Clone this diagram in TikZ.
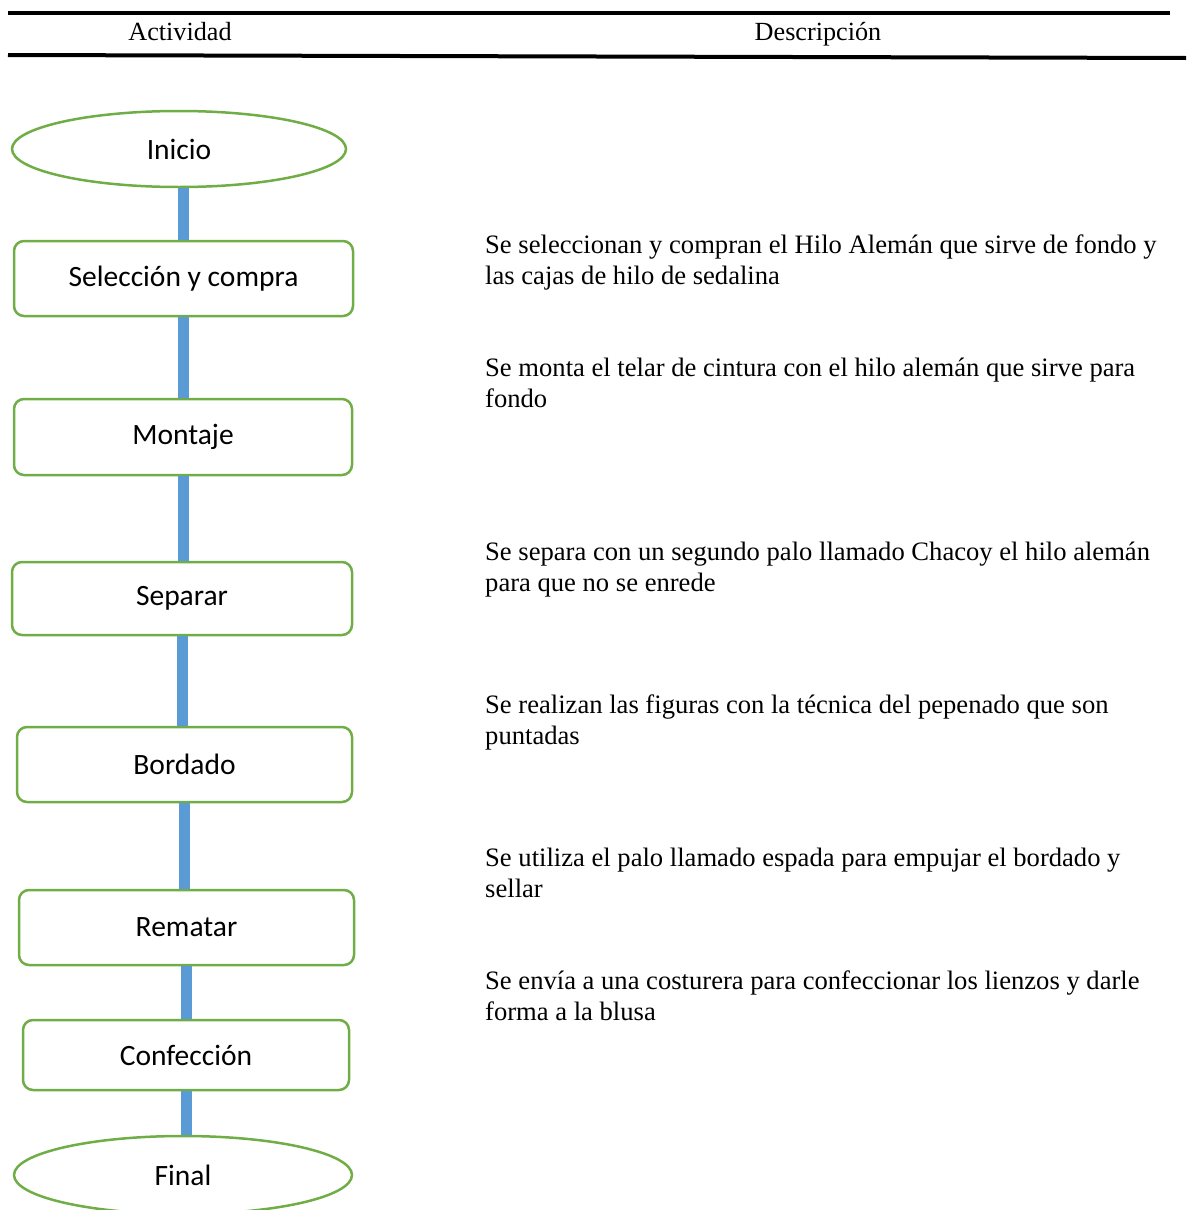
\documentclass[tikz,border=0pt]{standalone}
\usepackage{fontspec}
\setmainfont{Liberation Serif}
\newfontfamily\calibri{Carlito}
\usetikzlibrary{shapes.geometric}
\definecolor{bordergreen}{HTML}{70AD47}
\definecolor{linkblue}{HTML}{5B9BD5}
\tikzset{
  terminal/.style={ellipse, draw=bordergreen, line width=2.5pt, inner sep=0pt, font=\calibri\fontsize{29.5}{33}\selectfont},
  stepbox/.style={rectangle, rounded corners=10pt, draw=bordergreen, line width=2.5pt, inner sep=0pt, font=\calibri\fontsize{29.5}{33}\selectfont},
  link/.style={draw=linkblue, line width=11pt},
  desc/.style={anchor=north west, align=left, inner sep=0pt, font=\fontsize{26.6}{30.5}\selectfont},
  head/.style={anchor=base, inner sep=0pt, font=\fontsize{26.2}{30}\selectfont},
  rule/.style={line width=4pt, black}
}
\begin{document}
\begin{tikzpicture}[x=1pt,y=-1pt]
\useasboundingbox (0,0) rectangle (1186,1210);
% header
\draw[rule] (8,13) -- (1170,13);
\draw[rule] (8,55) -- (1186,58);
\node[head] (h1) at (180,40) {Actividad};
\node[head] (h2) at (818,40) {Descripción};
% flow nodes
\node[terminal, minimum width=334pt, minimum height=76pt] (inicio) at (179,149) {Inicio};
\node[stepbox, minimum width=339pt, minimum height=75pt] (sel) at (183.5,278.5) {Selección y compra};
\node[stepbox, minimum width=338pt, minimum height=76pt] (mont) at (183,437) {Montaje};
\node[stepbox, minimum width=340pt, minimum height=73pt] (sep) at (182,598.5) {Separar};
\node[stepbox, minimum width=335pt, minimum height=75pt] (bord) at (184.5,764.5) {Bordado};
\node[stepbox, minimum width=335pt, minimum height=75pt] (rem) at (186.5,927.5) {Rematar};
\node[stepbox, minimum width=326pt, minimum height=70pt] (conf) at (186,1055) {Confección};
\node[terminal, minimum width=338pt, minimum height=78pt] (final) at (183,1175) {Final};
% connectors (vertical)
\draw[link] (sel.north |- inicio.south) -- (sel.north);
\draw[link] (sel.south) -- (sel.south |- mont.north);
\draw[link] (mont.south) -- (mont.south |- sep.north);
\draw[link] (sep.south) -- (sep.south |- bord.north);
\draw[link] (bord.south) -- (bord.south |- rem.north);
\draw[link] (conf.north |- rem.south) -- (conf.north);
\draw[link] (conf.south) -- (conf.south |- final.north);
% descriptions
\node[desc] (d1) at (485,235) {Se seleccionan y compran el Hilo Alemán que sirve de fondo y\\las cajas de hilo de sedalina};
\node[desc] (d2) at (485,358) {Se monta el telar de cintura con el hilo alemán que sirve para\\fondo};
\node[desc] (d3) at (485,542) {Se separa con un segundo palo llamado Chacoy el hilo alemán\\para que no se enrede};
\node[desc] (d4) at (485,695) {Se realizan las figuras con la técnica del pepenado que son\\puntadas};
\node[desc] (d5) at (485,848) {Se utiliza el palo llamado espada para empujar el bordado y\\sellar};
\node[desc] (d6) at (485,971) {Se envía a una costurera para confeccionar los lienzos y darle\\forma a la blusa};
\end{tikzpicture}
\end{document}
